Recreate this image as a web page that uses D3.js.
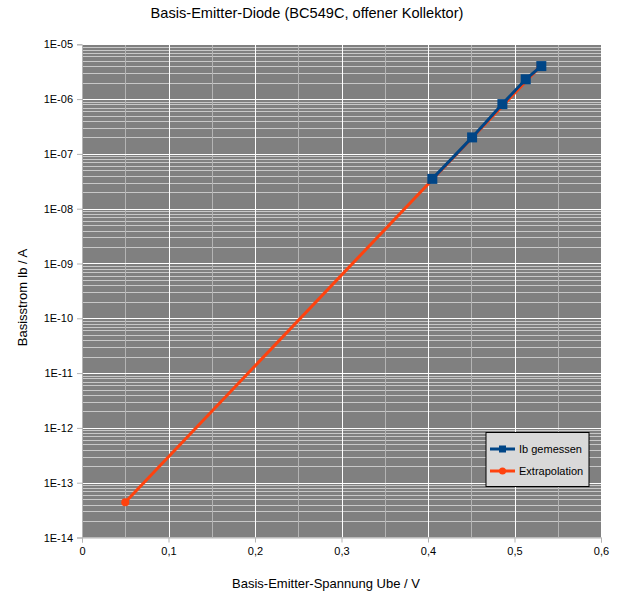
<!DOCTYPE html>
<html><head><meta charset="utf-8">
<script src="https://cdn.jsdelivr.net/npm/d3@7"></script>
<style>body{margin:0;background:#fff;} text{font-family:"Liberation Sans",Arial,sans-serif;}</style>
</head><body>
<svg id="c" width="630" height="603"></svg>
<script>
const title = "Basis-Emitter-Diode (BC549C, offener Kollektor)";
const xTitle = "Basis-Emitter-Spannung Ube / V";
const yTitle = "Basisstrom Ib / A";
const measuredU = [0.405, 0.451, 0.486, 0.513, 0.531];
const measuredI = [3.5e-8, 2.0e-7, 8.1e-7, 2.3e-6, 4.0e-6];
const extrapU = [0.05, 0.53];
const extrapI = [4.4e-14, 4.0e-6];
const xTicks = [0, 0.1, 0.2, 0.3, 0.4, 0.5, 0.6];
const yTicks = [1e-5, 1e-6, 1e-7, 1e-8, 1e-9, 1e-10, 1e-11, 1e-12, 1e-13, 1e-14];
const seriesNames = ["Ib gemessen", "Extrapolation"];

const svg = d3.select("#c");
const L = 82, R = 601, T = 44.3, B = 537.5;
const x = d3.scaleLinear().domain([0, 0.6]).range([L, R]);
const y = d3.scaleLog().domain([1e-14, 1e-5]).range([B, T]);

svg.append("rect").attr("x", L).attr("y", T).attr("width", R - L).attr("height", B - T).attr("fill", "#808080");

// minor horizontal grid
const minorY = [];
for (let e = -14; e < -5; e++) for (let m = 2; m <= 9; m++) minorY.push(m * Math.pow(10, e));
svg.append("g").selectAll("line").data(minorY).join("line")
  .attr("x1", L).attr("x2", R).attr("y1", d => Math.round(y(d)) + 0.5).attr("y2", d => Math.round(y(d)) + 0.5)
  .attr("stroke", "#c8c8c8").attr("stroke-width", 1);
// minor vertical grid
const minorX = [0.05, 0.15, 0.25, 0.35, 0.45, 0.55];
svg.append("g").selectAll("line").data(minorX).join("line")
  .attr("y1", T).attr("y2", B).attr("x1", d => Math.round(x(d)) + 0.5).attr("x2", d => Math.round(x(d)) + 0.5)
  .attr("stroke", "#b4b4b4").attr("stroke-width", 1);
// major grid
svg.append("g").selectAll("line").data(yTicks).join("line")
  .attr("x1", L).attr("x2", R).attr("y1", d => Math.round(y(d)) + 0.5).attr("y2", d => Math.round(y(d)) + 0.5)
  .attr("stroke", "#ffffff").attr("stroke-width", 1);
svg.append("g").selectAll("line").data(xTicks.slice(1)).join("line")
  .attr("y1", T).attr("y2", B).attr("x1", d => Math.round(x(d)) + 0.5).attr("x2", d => Math.round(x(d)) + 0.5)
  .attr("stroke", "#ffffff").attr("stroke-width", 1);

// axes
const fmtY = d => "1E-" + String(-Math.round(Math.log10(d))).padStart(2, "0");
const yAxis = svg.append("g").attr("transform", `translate(${L},0)`)
  .call(d3.axisLeft(y).tickValues(yTicks).tickFormat(fmtY).tickSize(5).tickPadding(4));
const xAxis = svg.append("g").attr("transform", `translate(0,${B})`)
  .call(d3.axisBottom(x).tickValues(xTicks).tickFormat(d => d === 0 ? "0" : d3.format(".1f")(d).replace(".", ",")).tickSize(5).tickPadding(5));
[yAxis, xAxis].forEach(a => {
  a.select(".domain").attr("stroke", "#b3b3b3");
  a.selectAll(".tick line").attr("stroke", "#b3b3b3");
  a.selectAll("text").attr("font-size", 11).attr("fill", "#000").attr("font-family", "Liberation Sans, Arial, sans-serif");
});

// lines
const line = d3.line().x(d => x(d[0])).y(d => y(d[1]));
const extrap = extrapU.map((u, i) => [u, extrapI[i]]);
const meas = measuredU.map((u, i) => [u, measuredI[i]]);
svg.append("path").datum(extrap).attr("d", line).attr("fill", "none").attr("stroke", "#ff420e").attr("stroke-width", 3);
svg.append("g").selectAll("circle").data(extrap).join("circle")
  .attr("cx", d => x(d[0])).attr("cy", d => y(d[1])).attr("r", 4).attr("fill", "#ff420e");
svg.append("path").datum(meas).attr("d", line).attr("fill", "none").attr("stroke", "#004586").attr("stroke-width", 3);
svg.append("g").selectAll("rect").data(meas).join("rect")
  .attr("x", d => x(d[0]) - 5).attr("y", d => y(d[1]) - 5).attr("width", 10).attr("height", 10).attr("fill", "#004586");

// legend
const lg = svg.append("g");
lg.append("rect").attr("x", 486).attr("y", 432.5).attr("width", 103).attr("height", 54).attr("fill", "#d9d9d9").attr("stroke", "#000").attr("stroke-width", 1);
const ly = [449, 471], lc = ["#004586", "#ff420e"];
seriesNames.forEach((n, i) => {
  lg.append("line").attr("x1", 490).attr("x2", 515).attr("y1", ly[i]).attr("y2", ly[i]).attr("stroke", lc[i]).attr("stroke-width", 3);
  if (i === 0) lg.append("rect").attr("x", 499).attr("y", ly[i] - 3.5).attr("width", 7).attr("height", 7).attr("fill", lc[i]);
  else lg.append("circle").attr("cx", 502.5).attr("cy", ly[i]).attr("r", 3.5).attr("fill", lc[i]);
  lg.append("text").attr("x", 519).attr("y", ly[i] + 4).attr("font-size", 11).text(n);
});

// titles
svg.append("text").attr("x", 307).attr("y", 18).attr("text-anchor", "middle").attr("font-size", 14.6).text(title);
svg.append("text").attr("x", 326).attr("y", 588).attr("text-anchor", "middle").attr("font-size", 13).text(xTitle);
svg.append("text").attr("transform", "translate(26.5,297.5) rotate(-90)").attr("text-anchor", "middle").attr("font-size", 13).text(yTitle);
</script>
</body></html>
